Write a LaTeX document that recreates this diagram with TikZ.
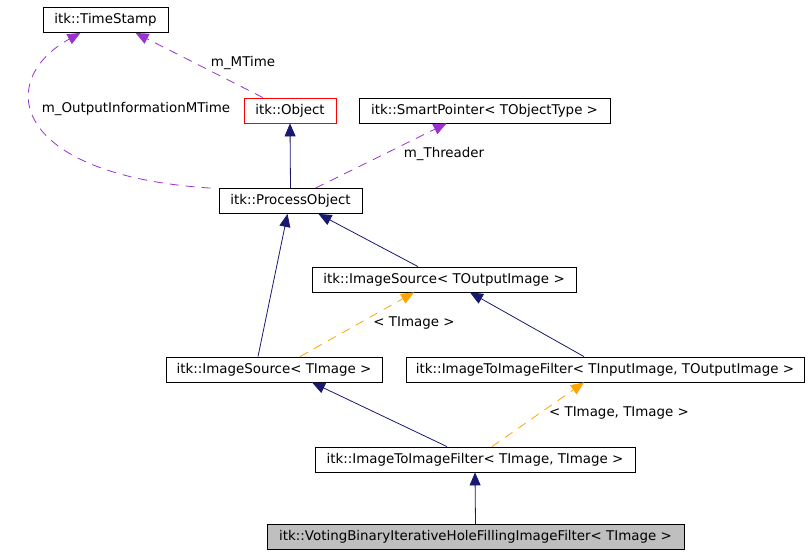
\documentclass[tikz,border=0pt]{standalone}
\usepackage{fontspec}
\setmainfont{DejaVu Sans}
\usetikzlibrary{arrows.meta}
\definecolor{navyedge}{HTML}{191970}
\definecolor{purpedge}{HTML}{9A32CD}
\definecolor{orngedge}{HTML}{FFA500}
\begin{document}
\begin{tikzpicture}[x=1pt, y=-1pt,
  font=\fontsize{13.4}{15}\selectfont,
  cls/.style={draw, line width=0.8pt, inner sep=0pt, minimum height=25pt},
  inherit/.style={navyedge, line width=0.8pt, -{Triangle[length=13pt,width=11pt]}},
  member/.style={purpedge, line width=0.8pt, dash pattern=on 9pt off 7pt, -{Triangle[length=13pt,width=11pt]}},
  templ/.style={orngedge, line width=0.8pt, dash pattern=on 9pt off 7pt, -{Triangle[length=13pt,width=11pt]}},
  lbl/.style={inner sep=1pt}]
  \useasboundingbox (0,0) rectangle (811,555);
  % classes
  \node[cls, minimum width=125pt] (timestamp) at (105.5,20) {itk::TimeStamp};
  \node[cls, draw=red, minimum width=92pt] (object) at (290,110.5) {itk::Object};
  \node[cls, minimum width=251pt] (smartptr) at (484.5,110.5) {itk::SmartPointer< TObjectType >};
  \node[cls, minimum width=143pt] (procobj) at (290.5,201) {itk::ProcessObject};
  \node[cls, minimum width=264pt] (srcout) at (444,279.5) {itk::ImageSource< TOutputImage >};
  \node[cls, minimum width=216pt] (srcimg) at (274,369.5) {itk::ImageSource< TImage >};
  \node[cls, minimum width=398pt] (filtinout) at (605,369.5) {itk::ImageToImageFilter< TInputImage, TOutputImage >};
  \node[cls, minimum width=320pt] (filtimg) at (475,459.5) {itk::ImageToImageFilter< TImage, TImage >};
  \node[cls, fill=black!25, minimum width=417pt] (voting) at (475.5,537) {itk::VotingBinaryIterativeHoleFillingImageFilter< TImage >};
  % inheritance
  \draw[inherit] (procobj.north) -- (object.south);
  \draw[inherit] ([xshift=-16pt]srcimg.north) -- ([xshift=-3pt]procobj.south);
  \draw[inherit] ([xshift=-26pt]srcout.north) -- ([xshift=28pt]procobj.south);
  \draw[inherit] ([xshift=-21pt]filtinout.north) -- ([xshift=26pt]srcout.south);
  \draw[inherit] ([xshift=-28pt]filtimg.north) -- ([xshift=38pt]srcimg.south);
  \draw[inherit] (voting.north) -- (filtimg.south);
  % members
  \draw[member] ([xshift=-27pt]object.north) -- ([xshift=30pt]timestamp.south);
  \node[lbl] (mtime) at (243,63) {m\_MTime};
  \draw[member] ([xshift=-80pt]procobj.north) .. controls (10,175) and (-5,80) .. ([xshift=-25pt]timestamp.south);
  \node[lbl] (outinfo) at (136,109) {m\_OutputInformationMTime};
  \draw[member] ([xshift=25pt]procobj.north) -- ([xshift=-38pt]smartptr.south);
  \node[lbl] (threader) at (444,154) {m\_Threader};
  % template instances
  \draw[templ] ([xshift=26pt]srcimg.north) -- ([xshift=-30pt]srcout.south);
  \node[lbl] (tplsrc) at (414,323) {< TImage >};
  \draw[templ] ([xshift=17pt]filtimg.north) -- ([xshift=-21pt]filtinout.south);
  \node[lbl] (tplfilt) at (619,413) {< TImage, TImage >};
\end{tikzpicture}
\end{document}
